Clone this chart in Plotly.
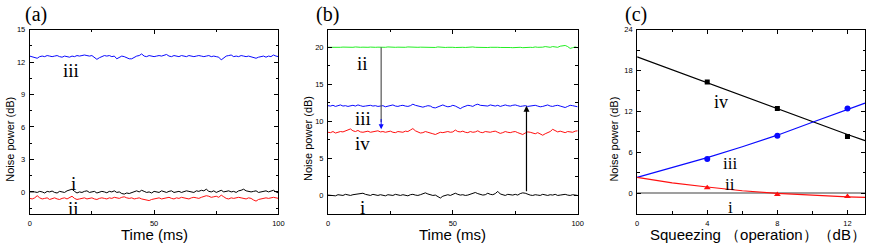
import numpy as np
import plotly.graph_objects as go

# ---------------- data ----------------
time_ms = list(range(101))

a_iii = [12.55,12.5,12.45,12.35,12.5,12.55,12.5,12.6,12.55,12.5,
         12.55,12.6,12.5,12.45,12.55,12.5,12.45,12.55,12.5,12.6,
         12.55,12.6,12.65,12.6,12.55,12.6,12.45,12.25,12.4,12.5,
         12.6,12.55,12.6,12.5,12.55,12.3,12.45,12.55,12.5,12.4,
         12.3,12.3,12.45,12.55,12.6,12.75,12.55,12.5,12.6,12.55,
         12.5,12.55,12.6,12.55,12.6,12.7,12.55,12.5,12.6,12.55,
         12.5,12.6,12.55,12.5,12.6,12.55,12.5,12.55,12.6,12.55,
         12.5,12.55,12.6,12.5,12.55,12.5,12.45,12.2,12.35,12.55,
         12.6,12.65,12.5,12.55,12.5,12.6,12.55,12.5,12.55,12.5,
         12.4,12.35,12.45,12.5,12.55,12.45,12.55,12.5,12.65,12.55,12.5]

a_i = [0.0,0.02,0.0,-0.05,0.05,0.0,-0.1,0.05,0.0,0.08,
       -0.05,-0.1,0.05,0.0,-0.05,0.1,0.2,0.25,0.05,-0.1,
       0.0,-0.05,0.05,0.1,-0.05,0.0,0.05,-0.1,0.0,0.05,
       0.0,-0.08,0.05,0.0,0.1,-0.05,0.0,-0.15,-0.2,-0.1,
       -0.15,-0.05,0.05,0.1,0.0,0.15,0.05,-0.05,0.0,-0.1,
       0.05,0.0,-0.05,0.1,0.0,-0.05,0.05,0.1,-0.05,0.0,
       0.05,-0.05,0.0,0.1,0.05,0.0,-0.05,0.1,0.05,0.15,
       0.1,0.25,0.05,0.0,0.1,-0.05,0.05,0.15,0.0,0.05,
       0.1,0.0,0.05,-0.05,0.1,0.15,0.25,0.1,0.05,0.0,
       0.05,0.1,-0.05,0.0,0.05,0.1,0.0,0.05,0.15,0.0,-0.1]

a_ii = [-0.6,-0.65,-0.55,-0.35,-0.55,-0.65,-0.6,-0.55,-0.7,-0.6,
        -0.55,-0.65,-0.7,-0.6,-0.55,-0.65,-0.55,-0.4,-0.6,-0.7,
        -0.65,-0.6,-0.55,-0.65,-0.6,-0.55,-0.65,-0.7,-0.6,-0.55,
        -0.6,-0.65,-0.55,-0.6,-0.5,-0.55,-0.6,-0.5,-0.45,-0.55,
        -0.6,-0.55,-0.65,-0.6,-0.55,-0.65,-0.7,-0.75,-0.8,-0.7,
        -0.65,-0.6,-0.55,-0.65,-0.6,-0.55,-0.5,-0.6,-0.65,-0.55,
        -0.6,-0.5,-0.55,-0.6,-0.65,-0.55,-0.5,-0.55,-0.6,-0.5,
        -0.45,-0.35,-0.4,-0.5,-0.45,-0.4,-0.5,-0.3,-0.45,-0.6,
        -0.65,-0.55,-0.6,-0.55,-0.5,-0.55,-0.6,-0.65,-0.55,-0.6,
        -0.75,-0.85,-0.7,-0.65,-0.6,-0.55,-0.6,-0.55,-0.5,-0.55,-0.6]

b_ii = [20.0,19.98,20.02,20.0,19.95,20.0,20.03,20.0,19.97,20.02,
        20.0,20.05,19.98,20.0,20.02,19.98,20.0,20.03,19.97,20.0,
        20.02,20.0,19.98,20.0,20.05,20.0,19.95,20.0,20.02,20.0,
        19.98,20.0,20.05,20.02,20.0,19.97,20.0,20.02,20.0,19.98,
        20.0,20.03,20.0,19.98,20.05,20.0,20.02,19.98,20.0,20.03,
        20.0,19.97,20.0,20.05,20.0,19.98,20.02,20.0,20.05,20.0,
        19.98,20.0,20.03,20.0,19.97,20.0,20.02,20.05,20.0,19.98,
        20.0,20.02,20.0,19.97,19.95,20.0,19.98,20.0,19.95,20.0,
        20.02,20.0,19.98,20.05,20.0,19.97,20.02,20.1,20.05,20.0,
        20.1,20.05,20.0,20.15,20.2,20.25,20.1,19.85,19.95,20.05,19.95]

b_iii = [12.1,12.05,12.15,12.0,12.1,12.2,12.05,12.1,12.0,12.1,
         12.15,12.05,12.2,12.1,12.0,12.05,12.1,12.15,12.05,12.1,
         12.0,12.05,12.1,11.95,12.05,12.1,12.2,12.05,12.0,12.1,
         12.15,12.05,12.0,12.1,12.3,12.15,12.05,12.0,11.9,12.0,
         12.1,12.05,11.85,11.8,11.95,12.1,12.2,12.05,11.95,12.0,
         12.15,12.05,11.85,11.7,11.9,12.05,12.15,12.1,12.0,12.2,
         12.3,12.15,12.1,12.0,12.05,12.2,12.1,12.05,12.15,12.0,
         12.1,12.2,12.1,12.05,12.15,12.2,12.1,12.0,12.05,12.1,
         12.0,12.05,12.1,12.15,12.05,11.95,12.0,12.1,12.2,12.05,
         12.0,12.1,12.15,12.05,11.9,11.85,12.0,12.15,12.1,12.0,11.95]

b_iv = [8.5,8.45,8.6,8.4,8.5,8.6,8.55,8.7,8.8,8.95,
        8.7,8.6,8.75,8.55,8.5,8.6,8.65,8.5,8.55,8.6,
        8.7,8.55,8.6,8.5,8.55,8.65,8.5,8.45,8.6,8.55,
        8.5,8.65,8.6,8.8,9.0,8.7,8.5,8.4,8.45,8.6,
        8.5,8.45,8.3,8.2,8.35,8.5,8.45,8.55,8.6,8.5,
        8.55,8.8,8.6,8.55,8.65,8.5,8.45,8.6,8.5,8.55,
        8.7,8.5,8.45,8.6,8.55,8.5,8.6,8.65,8.5,8.35,
        8.45,8.6,8.5,8.45,8.55,8.6,8.45,8.3,8.2,8.4,
        8.55,8.5,8.4,8.3,8.45,8.25,8.1,8.3,8.45,8.6,
        8.9,8.7,8.55,8.65,8.5,8.45,8.6,8.55,8.5,8.65,8.7]

b_i = [0.0,-0.05,0.0,-0.1,0.05,0.0,-0.05,0.1,0.0,-0.05,
       0.05,0.1,0.2,0.15,0.25,0.1,0.05,-0.05,0.1,0.0,
       -0.05,0.05,0.0,-0.1,0.05,0.0,-0.05,0.1,0.0,-0.05,
       0.05,0.0,-0.1,0.05,0.1,0.0,-0.05,0.05,0.2,0.3,
       0.15,0.05,-0.05,0.0,-0.2,-0.4,-0.15,0.0,0.05,-0.05,
       0.1,0.25,0.1,0.0,0.05,-0.05,0.0,0.15,0.2,0.35,
       0.2,0.1,0.0,0.05,0.25,0.1,0.05,0.2,0.5,0.15,
       0.0,-0.05,0.1,0.05,0.0,0.1,0.0,0.2,0.3,0.25,
       0.1,0.0,-0.05,0.05,0.0,-0.05,0.1,0.0,-0.05,0.05,
       0.0,0.1,-0.05,0.0,0.05,0.1,0.0,-0.05,0.05,0.0,-0.05]

# panel (c)
sq_pts = [4, 8, 12]
c_iv_pts = [16.3, 12.4, 8.3]
c_iii_pts = [5.0, 8.4, 12.4]
c_ii_pts = [0.8, -0.2, -0.5]

sq_curve = [0, 2, 4, 6, 8, 10, 12, 13]
c_iv_curve = [20.0, 18.1, 16.1, 14.2, 12.3, 10.4, 8.6, 7.7]
c_iii_curve = [2.3, 3.7, 5.2, 6.8, 8.5, 10.4, 12.3, 13.2]
c_ii_curve = [2.3, 1.5, 0.9, 0.35, -0.05, -0.35, -0.55, -0.62]
c_i_x = [0, 13]
c_i_y = [0, 0]

# arrows in (b): (t, from, to)
arrow1 = (21.3, 20.0, 8.9)
arrow2 = (79.5, 0.3, 12.1)

BLACK = "#000000"
RED = "#ff1010"
BLUE = "#0a0aff"
GREEN = "#22ee22"
GREY = "#7f7f7f"

fig = go.Figure()

def line(x, y, color, xa, ya, width=1.0):
    fig.add_trace(go.Scatter(x=x, y=y, mode="lines", line=dict(color=color, width=width),
                             xaxis=xa, yaxis=ya, showlegend=False, hoverinfo="skip"))

line(time_ms, a_iii, BLUE, "x", "y")
line(time_ms, a_i, BLACK, "x", "y")
line(time_ms, a_ii, RED, "x", "y")

line(time_ms, b_ii, GREEN, "x2", "y2")
line(time_ms, b_iii, BLUE, "x2", "y2")
line(time_ms, b_iv, RED, "x2", "y2")
line(time_ms, b_i, BLACK, "x2", "y2")

line(c_i_x, c_i_y, GREY, "x3", "y3", 1.5)
line(sq_curve, c_iv_curve, BLACK, "x3", "y3", 1.2)
line(sq_curve, c_iii_curve, BLUE, "x3", "y3", 1.2)
line(sq_curve, c_ii_curve, RED, "x3", "y3", 1.2)

def pts(x, y, color, sym, size):
    fig.add_trace(go.Scatter(x=x, y=y, mode="markers",
                             marker=dict(color=color, symbol=sym, size=size),
                             xaxis="x3", yaxis="y3", showlegend=False, hoverinfo="skip"))

pts(sq_pts, c_iv_pts, BLACK, "square", 5)
pts(sq_pts, c_iii_pts, BLUE, "circle", 6)
pts(sq_pts, c_ii_pts, RED, "triangle-up", 6)

W, H = 872, 247
def px(x):
    return x / W
def py(y):
    return 1 - y / H

ydom = [py(213), py(26)]
TICKFONT = dict(family="Liberation Sans, Arial", size=7.5, color="black")

def ax(domain, rng, dtick, minor_dtick, anchor, tick0=0):
    return dict(domain=domain, range=rng, anchor=anchor, showline=True, linecolor="black",
                linewidth=1, mirror="ticks", ticks="inside", ticklen=4, tickwidth=1,
                tickcolor="black", showgrid=False, zeroline=False, tickfont=TICKFONT,
                tick0=tick0, dtick=dtick, ticklabelstandoff=2,
                minor=dict(ticks="inside", ticklen=2.5, tickcolor="black", dtick=minor_dtick,
                           tick0=tick0, showgrid=False))

fig.update_layout(
    width=W, height=H, margin=dict(l=0, r=0, t=0, b=0),
    paper_bgcolor="white", plot_bgcolor="white",
    xaxis=ax([px(28), px(279)], [0, 100], 50, 25, "y"),
    yaxis=ax(ydom, [-2, 15], 3, 1.5, "x"),
    xaxis2=ax([px(329), px(581)], [0, 100], 50, 25, "y2"),
    yaxis2=ax(ydom, [-2.5, 22.4], 5, 2.5, "x2"),
    xaxis3=ax([px(641), px(871)], [0, 13], 4, 2, "y3"),
    yaxis3=ax(ydom, [-3, 24], 6, 3, "x3"),
)

ann = []
SERIF = "Liberation Serif, Times New Roman"
SANS = "Liberation Sans, Arial"
def label(text, x, y, xref, yref, size=19, family=SERIF, angle=0):
    ann.append(dict(text=text, x=x, y=y, xref=xref, yref=yref, showarrow=False,
                    font=dict(family=family, size=size, color="black"), textangle=angle,
                    xanchor="center", yanchor="middle"))

# panel labels
label("(a)", px(34), py(11), "paper", "paper", 20)
label("(b)", px(329), py(11), "paper", "paper", 20)
label("(c)", px(640), py(11), "paper", "paper", 20)

# axis titles
label("Time (ms)", px(153.5), py(234), "paper", "paper", 15, SANS)
label("Time (ms)", px(455), py(234), "paper", "paper", 15, SANS)
label("Squeezing （operation）（dB）", px(763), py(234), "paper", "paper", 15, SANS)
for xx in (8, 309, 617.5):
    label("Noise power (dB)", px(xx), py(137), "paper", "paper", 11, SANS, -90)

# curve labels
label("iii", 16.5, 11.2, "x", "y")
label("i", 17.5, 0.8, "x", "y")
label("ii", 17.5, -1.55, "x", "y")

label("ii", 14, 17.8, "x2", "y2")
label("iii", 14, 10.4, "x2", "y2")
label("iv", 14, 7.0, "x2", "y2")
label("i", 14, -1.7, "x2", "y2")

label("iv", 4.8, 13.3, "x3", "y3", 18)
label("iii", 5.3, 4.4, "x3", "y3", 17)
label("ii", 5.3, 1.3, "x3", "y3", 17)
label("i", 5.3, -2.1, "x3", "y3", 17)

# arrows
ann.append(dict(x=arrow1[0], y=arrow1[2], ax=arrow1[0], ay=arrow1[2] + 1.6,
                xref="x2", yref="y2", axref="x2", ayref="y2", showarrow=True,
                arrowhead=2, arrowsize=1, arrowwidth=1, arrowcolor=BLUE, text=""))
ann.append(dict(x=arrow2[0], y=arrow2[2], ax=arrow2[0], ay=arrow2[1],
                xref="x2", yref="y2", axref="x2", ayref="y2", showarrow=True,
                arrowhead=2, arrowsize=1, arrowwidth=1.2, arrowcolor=BLACK, text=""))
fig.update_layout(annotations=ann)
fig.add_shape(type="line", x0=arrow1[0], x1=arrow1[0], y0=arrow1[1], y1=arrow1[2] + 1.0,
              xref="x2", yref="y2", line=dict(color="#555555", width=1.2))

fig.write_html("out.html", config={"displayModeBar": False},
               post_script="document.body.style.margin='0';document.body.style.overflow='hidden';")
